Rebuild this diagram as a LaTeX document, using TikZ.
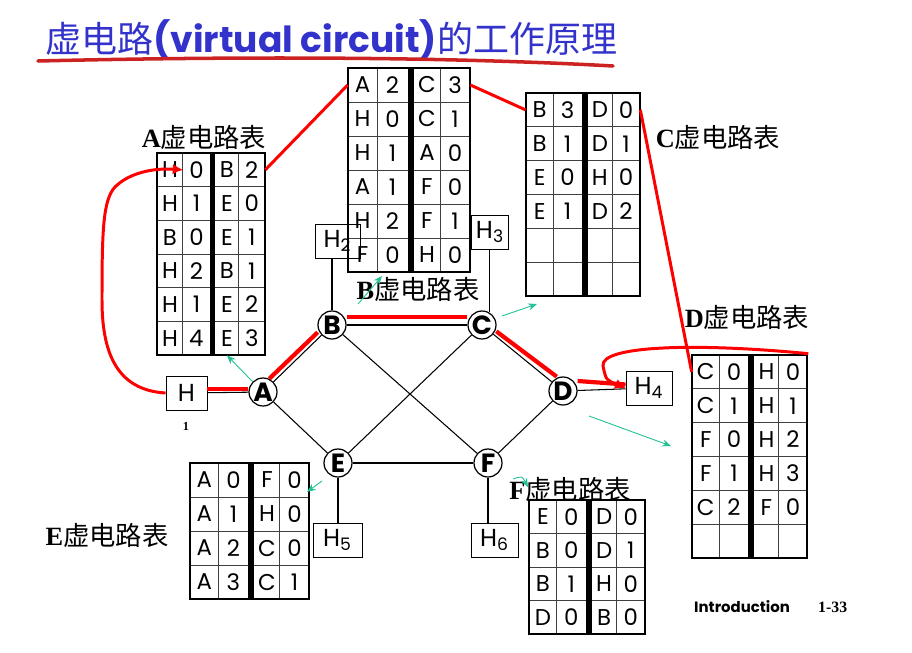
\documentclass[tikz,border=0pt]{standalone}
\usepackage{fontspec}
\setmainfont{Liberation Serif}
\setsansfont{Poppins}
\newfontfamily\cjk{Noto Sans CJK SC}
\usetikzlibrary{arrows.meta}
\definecolor{titleblue}{HTML}{3333CC}
\definecolor{routered}{HTML}{FF0000}
\definecolor{underred}{HTML}{CC2222}
\definecolor{pointgreen}{HTML}{1FC195}

\tikzset{
  router/.style={circle, draw, fill=white, line width=0.7pt, minimum size=0.56cm, inner sep=0pt,
    font=\sffamily\bfseries\fontsize{15}{15}\selectfont},
  host/.style={rectangle, draw, line width=0.5pt, minimum height=0.68cm, inner sep=0pt,
    font=\sffamily\fontsize{14}{14}\selectfont},
  link/.style={line width=0.6pt},
  route/.style={routered, line width=2.4pt},
  loopline/.style={routered, line width=1.7pt},
  pointer/.style={pointgreen, line width=0.5pt, -{Stealth[length=5pt,width=4pt]}},
  cell/.style={inner sep=0pt, font=\sffamily\fontsize{13}{13}\selectfont},
  tablabel/.style={font=\bfseries\fontsize{15}{15}\selectfont}
}

% table: name, left, top, right, bottom, rows, entries
\newcommand{\vctab}[7]{%
  \pgfmathsetmacro\tw{#4-#2}
  \pgfmathsetmacro\rh{(#5-#3)/#6}
  \foreach \va/\vb/\vc/\vd [count=\r] in {#7} {
    \pgfmathsetmacro\yc{#3+(\r-0.5)*\rh}
    \pgfmathsetmacro\yb{#3+\r*\rh}
    \draw[black!75, line width=0.5pt] (#2,\yb) -- (#4,\yb);
    \node[cell, minimum width=0.24*\tw*0.02cm, minimum height=\rh*0.02cm] (#1-\r-1) at ({#2+0.12*\tw},\yc) {\va};
    \node[cell, minimum width=0.25*\tw*0.02cm, minimum height=\rh*0.02cm] (#1-\r-2) at ({#2+0.365*\tw},\yc) {\vb};
    \node[cell, minimum width=0.215*\tw*0.02cm, minimum height=\rh*0.02cm] (#1-\r-3) at ({#2+0.6475*\tw},\yc) {\vc};
    \node[cell, minimum width=0.245*\tw*0.02cm, minimum height=\rh*0.02cm] (#1-\r-4) at ({#2+0.8775*\tw},\yc) {\vd};
  }
  \draw[black!75, line width=0.5pt] ({#2+0.24*\tw},#3) -- ({#2+0.24*\tw},#5);
  \draw[black!75, line width=0.5pt] ({#2+0.755*\tw},#3) -- ({#2+0.755*\tw},#5);
  \fill ({#2+0.49*\tw},#3) rectangle ({#2+0.54*\tw},#5);
  \node[draw, line width=1.5pt, inner sep=0pt, minimum width=\tw*0.02cm, minimum height=(#5-#3)*0.02cm]
    (#1) at ({(#2+#4)/2},{(#3+#5)/2}) {};
}

\begin{document}
\begin{tikzpicture}[x=0.02cm, y=-0.02cm, >=Latex]
  \useasboundingbox (0,0) rectangle (912,652);

  % title
  \node[anchor=west, text=titleblue, font=\fontsize{20.5}{20.5}\selectfont, inner sep=0pt] (title) at (45,40)
    {{\cjk 虚电路}{\sffamily\bfseries (virtual circuit)}{\cjk 的工作原理}};
  \draw[underred, line width=2pt, line cap=round] (38,61) .. controls (250,56) and (450,57) .. (613,66);

  % tables
  \vctab{tA}{157}{153}{265}{355}{6}{H/0/B/2, H/1/E/0, B/0/E/1, H/2/B/1, H/1/E/2, H/4/E/3}
  \vctab{tB}{348}{68}{470}{272}{6}{A/2/C/3, H/0/C/1, H/1/A/0, A/1/F/0, H/2/F/1, F/0/H/0}
  \vctab{tC}{526}{93}{640}{296}{6}{B/3/D/0, B/1/D/1, E/0/H/0, E/1/D/2, {}/{}/{}/{}, {}/{}/{}/{}}
  \vctab{tD}{692}{355}{807}{558}{6}{C/0/H/0, C/1/H/1, F/0/H/2, F/1/H/3, C/2/F/0, {}/{}/{}/{}}
  \vctab{tE}{190}{463}{309}{599}{4}{A/0/F/0, A/1/H/0, A/2/C/0, A/3/C/1}
  \vctab{tF}{529}{500}{645}{634}{4}{E/0/D/0, B/0/D/1, B/1/H/0, D/0/B/0}

  \node[tablabel] (lA) at (204,137) {A{\cjk\mdseries 虚电路表}};
  \node[tablabel] (lB) at (418,289) {B{\cjk\mdseries 虚电路表}};
  \node[tablabel] (lC) at (718,137) {C{\cjk\mdseries 虚电路表}};
  \node[tablabel] (lD) at (747,317) {D{\cjk\mdseries 虚电路表}};
  \node[tablabel] (lE) at (107,535) {E{\cjk\mdseries 虚电路表}};
  \node[tablabel] (lF) at (570,489) {F{\cjk\mdseries 虚电路表}};

  % routers and hosts
  \node[router] (A) at (263,392) {A};
  \node[router] (B) at (332,325) {B};
  \node[router] (C) at (482,325) {C};
  \node[router] (D) at (563,391) {D};
  \node[router] (E) at (338,463) {E};
  \node[router] (F) at (488,463) {F};

  \node[host, minimum width=0.82cm] (H) at (186.5,393) {H};
  \node[host, minimum width=0.90cm] (H2) at (337.5,241) {H\textsubscript{2}};
  \node[host, minimum width=0.74cm] (H3) at (490,232) {H\textsubscript{3}};
  \node[host, minimum width=0.92cm] (H4) at (649,388) {H\textsubscript{4}};
  \node[host, minimum width=0.98cm] (H5) at (337.5,540) {H\textsubscript{5}};
  \node[host, minimum width=0.94cm] (H6) at (494.5,540) {H\textsubscript{6}};
  \node[font=\bfseries\fontsize{7}{7}\selectfont] (hnum) at (186,426) {1};

  % links
  \draw[link] (A) -- (B);
  \draw[link] (A) -- (E);
  \draw[link] (B) -- (C);
  \draw[link] (B) -- (F);
  \draw[link] (C) -- (E);
  \draw[link] (C) -- (D);
  \draw[link] (D) -- (F);
  \draw[link] (E) -- (F);
  \draw[link] (H) -- (A);
  \draw[link] (D) -- (H4);
  \draw[link] (B.north) -- (B.north |- H2.south);
  \draw[link] (C.60) -- (C.60 |- H3.south);
  \draw[link] (E) -- (E |- H5.north);
  \draw[link] (F) -- (F |- H6.north);

  % virtual circuit
  \draw[route] ([yshift=2.3pt]H.east) -- ([yshift=2.3pt]H.east -| A.west);
  \draw[route] ([shift={(-4,-3)}]A.45) -- ([shift={(-4,-3)}]B.225);
  \draw[route] ([yshift=4.5pt]B.east) -- ([yshift=4.5pt]C.west);
  \draw[route] ([shift={(4,-4)}]C.315) -- ([shift={(4,-4)}]D.135);
  \draw[route] ([yshift=5.7pt]D.east) -- ([yshift=2pt]H4.west);
  \draw[loopline, -{Latex[length=6pt,width=6pt]}] (H.west) .. controls (115,390) and (102,350) .. (102,300)
    .. controls (102,230) and (103,200) .. (115,187) .. controls (130,172) and (155,168) .. (tA-1-1.east);
  \draw[loopline, -{Latex[length=6pt,width=6pt]}] (tD.north east) .. controls (700,343) and (600,345) .. (603,366)
    .. controls (606,380) .. (H4.west);

  % table links
  \draw[loopline] (tA-1-4.east) -- (tB-1-1.west);
  \draw[loopline] (tB-1-4.east) -- (tC-1-1.west);
  \draw[loopline] (tC-1-4.east) -- (tD-1-1.west);

  % pointers
  \coordinate (pB0) at (358,304); \coordinate (pB1) at (382,276);
  \coordinate (pC0) at (502,316); \coordinate (pC1) at (537,304);
  \coordinate (pD0) at (589,416); \coordinate (pD1) at (671,446);
  \coordinate (pE0) at (322,481); \coordinate (pE1) at (307,492);
  \coordinate (pF0) at (513,479); \coordinate (pF1) at (528,487);
  \draw[pointer] (A.135) -- (tA-6-3.south);
  \draw[pointer] (pB0) -- (pB1);
  \draw[pointer] (pC0) -- (pC1);
  \draw[pointer] (pD0) -- (pD1);
  \draw[pointer] (pE0) -- (pE1);
  \draw[pointer] (pF0) .. controls (522,476) .. (pF1);

  \node[anchor=west, font=\sffamily\bfseries\fontsize{8.5}{8.5}\selectfont] (intro) at (688,607) {Introduction};
  \node[anchor=west, font=\bfseries\fontsize{9}{9}\selectfont] (page) at (812,607) {1-33};
\end{tikzpicture}
\end{document}
